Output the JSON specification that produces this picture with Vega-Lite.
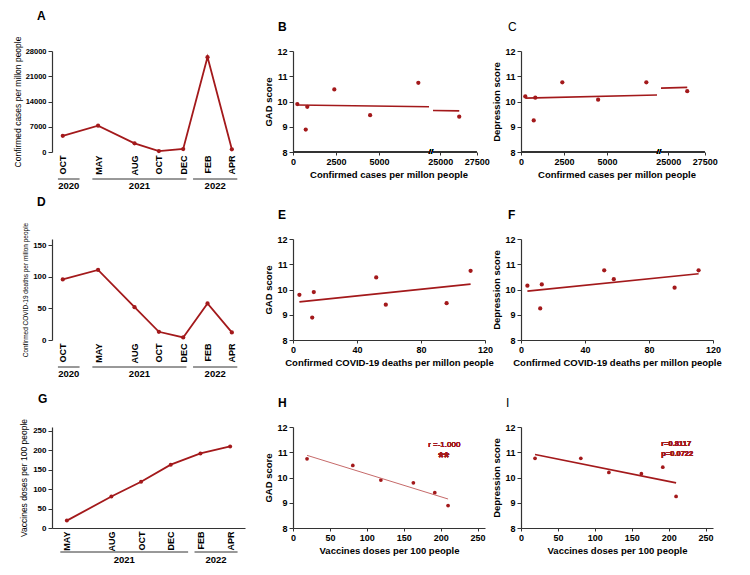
{
  "$schema": "https://vega.github.io/schema/vega-lite/v6.json",
  "background": "white",
  "padding": {"left": 13, "top": 10, "right": 5, "bottom": 5},
  "columns": 3,
  "spacing": {"row": 87, "column": 36},
  "bounds": "flush",
  "align": "each",
  "datasets": {
    "covid": [
      {"period": "2020-10", "month_index": 9, "cases": 4480, "deaths": 96, "vaccines": null, "gad": 9.46, "dep": 10.07},
      {"period": "2021-05", "month_index": 16, "cases": 7280, "deaths": 111, "vaccines": 19, "gad": 10.74, "dep": 10.76},
      {"period": "2021-08", "month_index": 19, "cases": 2400, "deaths": 52, "vaccines": 81, "gad": 10.48, "dep": 10.76},
      {"period": "2021-10", "month_index": 21, "cases": 250, "deaths": 13, "vaccines": 119, "gad": 9.9, "dep": 10.2},
      {"period": "2021-12", "month_index": 23, "cases": 830, "deaths": 4, "vaccines": 163, "gad": 9.79, "dep": 10.15},
      {"period": "2022-02", "month_index": 25, "cases": 26300, "deaths": 58, "vaccines": 192, "gad": 9.4, "dep": 10.41},
      {"period": "2022-04", "month_index": 27, "cases": 740, "deaths": 12, "vaccines": 210, "gad": 8.89, "dep": 9.25}
    ],
    "yearsAD": [
      {"year": "2020", "from_month": 8.55, "to_month": 10.56},
      {"year": "2021", "from_month": 15.53, "to_month": 23.27},
      {"year": "2022", "from_month": 23.81, "to_month": 27.45}
    ],
    "yearsG": [
      {"year": "2021", "from_month": 15.56, "to_month": 24.17},
      {"year": "2022", "from_month": 24.6, "to_month": 27.5}
    ]
  },
  "concat": [
    {
      "width": 205, "height": 101,
      "title": {"text": "A", "anchor": "start", "frame": "group", "dx": -15, "offset": 13, "fontSize": 12, "fontWeight": "bold"},
      "layer": [
        {
          "data": {"name": "covid"},
          "mark": {"type": "line", "color": "#A3191B", "strokeWidth": 1.8},
          "encoding": {
            "x": {"field": "month_index", "type": "quantitative",
              "scale": {"domain": [8.4, 10.6, 15.5, 27.4], "range": [0, 28, 40, 192]},
              "axis": {"values": [9, 16, 19, 21, 23, 25, 27], "tickCount": 30, "labelExpr": "['JAN','FEB','MAR','APR','MAY','JUN','JUL','AUG','SEP','OCT','NOV','DEC'][datum.value % 12]", "labelAngle": 270, "labelFontSize": 9, "title": null, "domain": false, "ticks": false, "labelPadding": 3}},
            "y": {"field": "cases", "type": "quantitative",
              "scale": {"domain": [0, 28000]},
              "axis": {"values": [0, 7000, 14000, 21000, 28000], "tickCount": 30, "title": "Confirmed cases per millon people", "titleFontWeight": "normal", "titleFontSize": 8.5, "labelFontSize": 7.5, "titlePadding": 3}}
          }
        },
        {
          "data": {"name": "covid"},
          "mark": {"type": "circle", "color": "#A3191B", "size": 18, "opacity": 1},
          "encoding": {"x": {"field": "month_index", "type": "quantitative"}, "y": {"field": "cases", "type": "quantitative"}}
        },
        {"mark": {"type": "rule", "color": "#333", "strokeWidth": 1.2}, "encoding": {"x": {"datum": 8.55}, "x2": {"datum": 10.56}, "y": {"datum": 0}}},
        {"mark": {"type": "rule", "color": "#333", "strokeWidth": 1.2}, "encoding": {"x": {"datum": 15.53}, "x2": {"datum": 27.45}, "y": {"datum": 0}}},
        {"mark": {"type": "text", "text": "//", "fontWeight": "bold", "fontSize": 10, "baseline": "middle"}, "encoding": {"x": {"datum": 12.6}, "y": {"datum": 0}}},
        {"data": {"name": "yearsAD"}, "mark": {"type": "rule", "color": "#333", "yOffset": 27}, "encoding": {"x": {"field": "from_month", "type": "quantitative"}, "x2": {"field": "to_month"}, "y": {"datum": 0}}},
        {"data": {"name": "yearsAD"}, "transform": [{"calculate": "(datum.from_month + datum.to_month) / 2", "as": "mid"}], "mark": {"type": "text", "yOffset": 34, "fontWeight": "bold", "fontSize": 9.5, "baseline": "middle"}, "encoding": {"x": {"field": "mid", "type": "quantitative"}, "y": {"datum": 0}, "text": {"field": "year"}}}
      ]
    },
    {
      "width": 192, "height": 101,
      "title": {"text": "B", "anchor": "start", "frame": "group", "dx": -15, "offset": 13, "fontSize": 12, "fontWeight": "bold"},
      "data": {"name": "covid"},
      "layer": [
        {
          "mark": {"type": "circle", "color": "#A3191B", "size": 18, "opacity": 1},
          "encoding": {
            "x": {"field": "cases", "type": "quantitative",
              "scale": {"domain": [0, 7900, 24500, 27500], "range": [0, 136, 140, 191]},
              "axis": {"values": [0, 2500, 5000, 25000, 27500], "tickCount": 30, "domain": false, "title": "Confirmed cases per millon people", "tickSize": 3}},
            "y": {"field": "gad", "type": "quantitative", "scale": {"domain": [8, 12]}, "axis": {"values": [8, 9, 10, 11, 12], "tickCount": 30, "title": "GAD score"}}
          }
        },
        {"transform": [{"regression": "gad", "on": "cases", "extent": [250, 7900]}], "mark": {"type": "line", "color": "#A3191B", "strokeWidth": 1.6}, "encoding": {"x": {"field": "cases", "type": "quantitative"}, "y": {"field": "gad", "type": "quantitative"}}},
        {"transform": [{"regression": "gad", "on": "cases", "extent": [24500, 26300]}], "mark": {"type": "line", "color": "#A3191B", "strokeWidth": 1.6}, "encoding": {"x": {"field": "cases", "type": "quantitative"}, "y": {"field": "gad", "type": "quantitative"}}},
        {"mark": {"type": "rule", "color": "#333", "strokeWidth": 1.2}, "encoding": {"x": {"datum": 0}, "x2": {"datum": 7900}, "y": {"datum": 8}}},
        {"mark": {"type": "rule", "color": "#333", "strokeWidth": 1.2}, "encoding": {"x": {"datum": 24500}, "x2": {"datum": 27500}, "y": {"datum": 8}}},
        {"mark": {"type": "text", "text": "//", "fontSize": 8, "baseline": "middle"}, "encoding": {"x": {"datum": 16200}, "y": {"datum": 8}}}
      ]
    },
    {
      "width": 192, "height": 101,
      "title": {"text": "C", "anchor": "start", "frame": "group", "dx": -13, "offset": 13, "fontSize": 12, "fontWeight": "normal"},
      "data": {"name": "covid"},
      "layer": [
        {
          "mark": {"type": "circle", "color": "#A3191B", "size": 18, "opacity": 1},
          "encoding": {
            "x": {"field": "cases", "type": "quantitative",
              "scale": {"domain": [0, 7900, 24500, 27500], "range": [0, 136, 140, 191]},
              "axis": {"values": [0, 2500, 5000, 25000, 27500], "tickCount": 30, "domain": false, "title": "Confirmed cases per millon people", "tickSize": 3}},
            "y": {"field": "dep", "type": "quantitative", "scale": {"domain": [8, 12]}, "axis": {"values": [8, 9, 10, 11, 12], "tickCount": 30, "title": "Depression score"}}
          }
        },
        {"transform": [{"regression": "dep", "on": "cases", "extent": [250, 7900]}], "mark": {"type": "line", "color": "#A3191B", "strokeWidth": 1.6}, "encoding": {"x": {"field": "cases", "type": "quantitative"}, "y": {"field": "dep", "type": "quantitative"}}},
        {"transform": [{"regression": "dep", "on": "cases", "extent": [24500, 26300]}], "mark": {"type": "line", "color": "#A3191B", "strokeWidth": 1.6}, "encoding": {"x": {"field": "cases", "type": "quantitative"}, "y": {"field": "dep", "type": "quantitative"}}},
        {"mark": {"type": "rule", "color": "#333", "strokeWidth": 1.2}, "encoding": {"x": {"datum": 0}, "x2": {"datum": 7900}, "y": {"datum": 8}}},
        {"mark": {"type": "rule", "color": "#333", "strokeWidth": 1.2}, "encoding": {"x": {"datum": 24500}, "x2": {"datum": 27500}, "y": {"datum": 8}}},
        {"mark": {"type": "text", "text": "//", "fontSize": 8, "baseline": "middle"}, "encoding": {"x": {"datum": 16200}, "y": {"datum": 8}}}
      ]
    },
    {
      "width": 205, "height": 101,
      "title": {"text": "D", "anchor": "start", "frame": "group", "dx": -15, "offset": 13, "fontSize": 12, "fontWeight": "bold"},
      "layer": [
        {
          "data": {"name": "covid"},
          "mark": {"type": "line", "color": "#A3191B", "strokeWidth": 1.8},
          "encoding": {
            "x": {"field": "month_index", "type": "quantitative",
              "scale": {"domain": [8.4, 10.6, 15.5, 27.4], "range": [0, 28, 40, 192]},
              "axis": {"values": [9, 16, 19, 21, 23, 25, 27], "tickCount": 30, "labelExpr": "['JAN','FEB','MAR','APR','MAY','JUN','JUL','AUG','SEP','OCT','NOV','DEC'][datum.value % 12]", "labelAngle": 270, "labelFontSize": 9, "title": null, "domain": false, "ticks": false, "labelPadding": 3}},
            "y": {"field": "deaths", "type": "quantitative",
              "scale": {"domain": [0, 150]},
              "axis": {"values": [0, 50, 100, 150], "tickCount": 30, "title": "Confirmed COVID-19 deaths per millon people", "titleFontWeight": "normal", "titleFontSize": 6.5, "labelFontSize": 8, "titlePadding": 4}}
          }
        },
        {
          "data": {"name": "covid"},
          "mark": {"type": "circle", "color": "#A3191B", "size": 18, "opacity": 1},
          "encoding": {"x": {"field": "month_index", "type": "quantitative"}, "y": {"field": "deaths", "type": "quantitative"}}
        },
        {"mark": {"type": "rule", "color": "#333", "strokeWidth": 1.2}, "encoding": {"x": {"datum": 8.55}, "x2": {"datum": 10.56}, "y": {"datum": 0}}},
        {"mark": {"type": "rule", "color": "#333", "strokeWidth": 1.2}, "encoding": {"x": {"datum": 15.53}, "x2": {"datum": 27.45}, "y": {"datum": 0}}},
        {"mark": {"type": "text", "text": "//", "fontWeight": "bold", "fontSize": 10, "baseline": "middle"}, "encoding": {"x": {"datum": 12.6}, "y": {"datum": 0}}},
        {"data": {"name": "yearsAD"}, "mark": {"type": "rule", "color": "#333", "yOffset": 27}, "encoding": {"x": {"field": "from_month", "type": "quantitative"}, "x2": {"field": "to_month"}, "y": {"datum": 0}}},
        {"data": {"name": "yearsAD"}, "transform": [{"calculate": "(datum.from_month + datum.to_month) / 2", "as": "mid"}], "mark": {"type": "text", "yOffset": 34, "fontWeight": "bold", "fontSize": 9.5, "baseline": "middle"}, "encoding": {"x": {"field": "mid", "type": "quantitative"}, "y": {"datum": 0}, "text": {"field": "year"}}}
      ]
    },
    {
      "width": 192, "height": 101,
      "title": {"text": "E", "anchor": "start", "frame": "group", "dx": -15, "offset": 13, "fontSize": 12, "fontWeight": "bold"},
      "data": {"name": "covid"},
      "layer": [
        {
          "mark": {"type": "circle", "color": "#A3191B", "size": 18, "opacity": 1},
          "encoding": {
            "x": {"field": "deaths", "type": "quantitative", "scale": {"domain": [0, 120]}, "axis": {"values": [0, 40, 80, 120], "tickCount": 30, "title": "Confirmed COVID-19 deaths per millon people", "tickSize": 3}},
            "y": {"field": "gad", "type": "quantitative", "scale": {"domain": [8, 12]}, "axis": {"values": [8, 9, 10, 11, 12], "tickCount": 30, "title": "GAD score"}}
          }
        },
        {"transform": [{"regression": "gad", "on": "deaths"}], "mark": {"type": "line", "color": "#A3191B", "strokeWidth": 1.6}, "encoding": {"x": {"field": "deaths", "type": "quantitative"}, "y": {"field": "gad", "type": "quantitative"}}}
      ]
    },
    {
      "width": 192, "height": 101,
      "title": {"text": "F", "anchor": "start", "frame": "group", "dx": -13, "offset": 13, "fontSize": 12, "fontWeight": "bold"},
      "data": {"name": "covid"},
      "layer": [
        {
          "mark": {"type": "circle", "color": "#A3191B", "size": 18, "opacity": 1},
          "encoding": {
            "x": {"field": "deaths", "type": "quantitative", "scale": {"domain": [0, 120]}, "axis": {"values": [0, 40, 80, 120], "tickCount": 30, "title": "Confirmed COVID-19 deaths per millon people", "tickSize": 3}},
            "y": {"field": "dep", "type": "quantitative", "scale": {"domain": [8, 12]}, "axis": {"values": [8, 9, 10, 11, 12], "tickCount": 30, "title": "Depression score"}}
          }
        },
        {"transform": [{"regression": "dep", "on": "deaths"}], "mark": {"type": "line", "color": "#A3191B", "strokeWidth": 1.6}, "encoding": {"x": {"field": "deaths", "type": "quantitative"}, "y": {"field": "dep", "type": "quantitative"}}}
      ]
    },
    {
      "width": 205, "height": 101,
      "title": {"text": "G", "anchor": "start", "frame": "group", "dx": -14, "offset": 13, "fontSize": 12, "fontWeight": "bold"},
      "layer": [
        {
          "data": {"name": "covid"},
          "transform": [{"filter": "isValid(datum.vaccines)"}],
          "mark": {"type": "line", "color": "#A3191B", "strokeWidth": 1.8},
          "encoding": {
            "x": {"field": "month_index", "type": "quantitative",
              "scale": {"domain": [15.37, 27.5], "range": [0, 193]},
              "axis": {"values": [16, 19, 21, 23, 25, 27], "tickCount": 30, "labelExpr": "['JAN','FEB','MAR','APR','MAY','JUN','JUL','AUG','SEP','OCT','NOV','DEC'][datum.value % 12]", "labelAngle": 270, "labelFontSize": 9, "title": null, "ticks": false, "labelPadding": 3}},
            "y": {"field": "vaccines", "type": "quantitative",
              "scale": {"domain": [0, 250]},
              "axis": {"values": [0, 50, 100, 150, 200, 250], "tickCount": 30, "title": "Vaccines doses per 100 people", "titleFontWeight": "normal", "titleFontSize": 8.5, "labelFontSize": 8, "titlePadding": 4}}
          }
        },
        {
          "data": {"name": "covid"},
          "transform": [{"filter": "isValid(datum.vaccines)"}],
          "mark": {"type": "circle", "color": "#A3191B", "size": 16, "opacity": 1},
          "encoding": {"x": {"field": "month_index", "type": "quantitative"}, "y": {"field": "vaccines", "type": "quantitative"}}
        },
        {"data": {"name": "yearsG"}, "mark": {"type": "rule", "color": "#333", "yOffset": 24}, "encoding": {"x": {"field": "from_month", "type": "quantitative"}, "x2": {"field": "to_month"}, "y": {"datum": 0}}},
        {"data": {"name": "yearsG"}, "transform": [{"calculate": "(datum.from_month + datum.to_month) / 2", "as": "mid"}], "mark": {"type": "text", "yOffset": 32, "fontWeight": "bold", "fontSize": 9.5, "baseline": "middle"}, "encoding": {"x": {"field": "mid", "type": "quantitative"}, "y": {"datum": 0}, "text": {"field": "year"}}}
      ]
    },
    {
      "width": 192, "height": 101,
      "title": {"text": "H", "anchor": "start", "frame": "group", "dx": -15, "offset": 13, "fontSize": 12, "fontWeight": "bold"},
      "data": {"name": "covid"},
      "transform": [{"filter": "isValid(datum.vaccines)"}],
      "layer": [
        {
          "mark": {"type": "circle", "color": "#A3191B", "size": 14, "opacity": 1},
          "encoding": {
            "x": {"field": "vaccines", "type": "quantitative", "scale": {"domain": [0, 250]}, "axis": {"values": [0, 50, 100, 150, 200, 250], "tickCount": 30, "title": "Vaccines doses per 100 people", "tickSize": 3}},
            "y": {"field": "gad", "type": "quantitative", "scale": {"domain": [8, 12]}, "axis": {"values": [8, 9, 10, 11, 12], "tickCount": 30, "title": "GAD score"}}
          }
        },
        {"transform": [{"regression": "gad", "on": "vaccines"}], "mark": {"type": "line", "color": "#C66A6A", "strokeWidth": 1}, "encoding": {"x": {"field": "vaccines", "type": "quantitative"}, "y": {"field": "gad", "type": "quantitative"}}},
        {"mark": {"type": "text", "text": "r =-1.000", "fontSize": 8, "color": "#A3191B", "align": "left", "baseline": "middle"}, "encoding": {"x": {"datum": 183}, "y": {"datum": 11.3}}},
        {"mark": {"type": "text", "text": "**", "fontSize": 14, "fontWeight": "bold", "color": "#A3191B", "align": "center", "baseline": "middle", "dy": 4}, "encoding": {"x": {"datum": 204}, "y": {"datum": 10.93}}}
      ]
    },
    {
      "width": 192, "height": 101,
      "title": {"text": "I", "anchor": "start", "frame": "group", "dx": -15, "offset": 13, "fontSize": 12, "fontWeight": "normal"},
      "data": {"name": "covid"},
      "transform": [{"filter": "isValid(datum.vaccines)"}],
      "layer": [
        {
          "mark": {"type": "circle", "color": "#A3191B", "size": 14, "opacity": 1},
          "encoding": {
            "x": {"field": "vaccines", "type": "quantitative", "scale": {"domain": [0, 250]}, "axis": {"values": [0, 50, 100, 150, 200, 250], "tickCount": 30, "title": "Vaccines doses per 100 people", "tickSize": 3}},
            "y": {"field": "dep", "type": "quantitative", "scale": {"domain": [8, 12]}, "axis": {"values": [8, 9, 10, 11, 12], "tickCount": 30, "title": "Depression score"}}
          }
        },
        {"transform": [{"regression": "dep", "on": "vaccines"}], "mark": {"type": "line", "color": "#A3191B", "strokeWidth": 1.6}, "encoding": {"x": {"field": "vaccines", "type": "quantitative"}, "y": {"field": "dep", "type": "quantitative"}}},
        {"mark": {"type": "text", "text": "r=0.8117", "fontSize": 7.5, "fontWeight": "bold", "color": "#A3191B", "align": "left", "baseline": "middle"}, "encoding": {"x": {"datum": 190}, "y": {"datum": 11.33}}},
        {"mark": {"type": "text", "text": "p=0.0722", "fontSize": 7.5, "fontWeight": "bold", "color": "#A3191B", "align": "left", "baseline": "middle"}, "encoding": {"x": {"datum": 190}, "y": {"datum": 10.93}}}
      ]
    }
  ],
  "config": {
    "font": "Liberation Sans",
    "numberFormat": "d",
    "view": {"stroke": null},
    "axis": {
      "grid": false,
      "labelOverlap": false,
      "labelFlush": false,
      "domainColor": "#333",
      "domainWidth": 1.2,
      "tickColor": "#333",
      "tickSize": 4,
      "labelColor": "#000",
      "titleColor": "#000",
      "labelFont": "Liberation Sans",
      "titleFont": "Liberation Sans",
      "labelFontWeight": "bold",
      "labelFontSize": 9,
      "titleFontWeight": "bold",
      "titleFontSize": 9.5,
      "labelPadding": 2,
      "titlePadding": 3
    },
    "title": {"font": "Liberation Sans", "color": "#000"}
  }
}
